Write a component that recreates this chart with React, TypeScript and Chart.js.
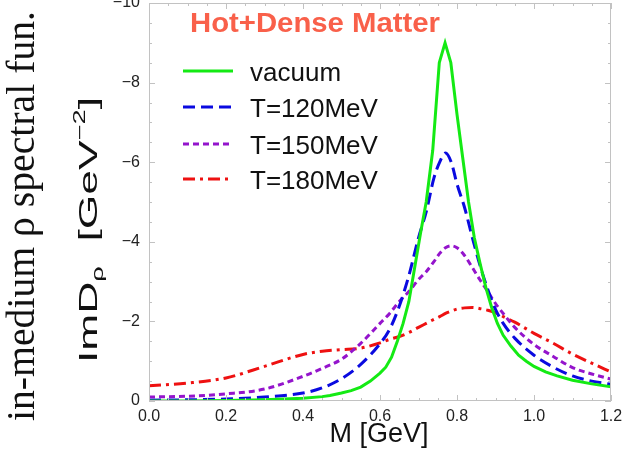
import React, { useEffect, useRef } from 'react';
import { Chart, registerables } from 'chart.js';

Chart.register(...registerables);

// invariant mass M [GeV] for the in-medium curves
const massGeV = [0, 0.1, 0.2, 0.3, 0.4, 0.45, 0.5, 0.55, 0.6, 0.625, 0.65, 0.675, 0.7, 0.72, 0.74, 0.755, 0.77, 0.785, 0.8, 0.82, 0.84, 0.86, 0.88, 0.9, 0.92, 0.95, 1.0, 1.05, 1.1, 1.15, 1.2];
// invariant mass M [GeV] for the vacuum curve
const vacuumMass = [0, 0.1, 0.2, 0.3, 0.4, 0.45, 0.47, 0.5, 0.525, 0.55, 0.575, 0.6, 0.615, 0.63, 0.645, 0.66, 0.675, 0.69, 0.705, 0.72, 0.737, 0.754, 0.769, 0.784, 0.8, 0.815, 0.83, 0.845, 0.86, 0.875, 0.89, 0.905, 0.92, 0.94, 0.96, 0.98, 1.0, 1.03, 1.06, 1.1, 1.15, 1.2];

// ImD_rho [GeV^-2]
const vacuum = [0, 0, -0.01, -0.03, -0.07, -0.11, -0.14, -0.2, -0.26, -0.35, -0.5, -0.7, -0.85, -1.1, -1.5, -1.95, -2.5, -3.35, -4.2, -5.0, -6.3, -8.5, -9.0, -8.5, -7.2, -6.1, -5.0, -4.1, -3.45, -2.85, -2.35, -1.95, -1.65, -1.38, -1.15, -1.0, -0.87, -0.73, -0.63, -0.52, -0.43, -0.36];
const t120 = [-0.02, -0.03, -0.05, -0.1, -0.2, -0.33, -0.56, -0.92, -1.44, -1.8, -2.38, -3.15, -4.1, -4.75, -5.6, -6.0, -6.23, -6.0, -5.45, -4.85, -4.1, -3.4, -2.8, -2.3, -1.95, -1.58, -1.15, -0.85, -0.63, -0.5, -0.42];
const t150 = [-0.1, -0.12, -0.18, -0.3, -0.62, -0.82, -1.05, -1.45, -1.95, -2.2, -2.5, -2.75, -3.05, -3.25, -3.5, -3.71, -3.85, -3.9, -3.85, -3.65, -3.35, -3.04, -2.75, -2.45, -2.2, -1.85, -1.42, -1.12, -0.84, -0.68, -0.55];
const t180 = [-0.38, -0.45, -0.58, -0.87, -1.17, -1.25, -1.29, -1.33, -1.46, -1.55, -1.62, -1.72, -1.85, -1.95, -2.05, -2.12, -2.2, -2.26, -2.31, -2.34, -2.35, -2.32, -2.28, -2.22, -2.12, -1.98, -1.7, -1.45, -1.18, -0.95, -0.73];

const seriesLabels = ['vacuum', 'T=120MeV', 'T=150MeV', 'T=180MeV'];
const seriesColors = ['#14ea14', '#0a0ae0', '#9414cc', '#ee1111'];
const seriesDashes: number[][] = [[], [12, 6], [6, 4], [12, 5, 3, 5]];

const xTickValues = [0, 0.2, 0.4, 0.6, 0.8, 1.0, 1.2];
const yTickValues = [0, -2, -4, -6, -8, -10];

const titleText = 'Hot+Dense Matter';
const sideText = 'in-medium \u03c1 spectral fun.';
const xTitle = 'M [GeV]';

const SANS = '"Liberation Sans", Arial, sans-serif';
const SERIF = '"Liberation Serif", "Times New Roman", serif';

const panelPlugin = {
  id: 'panel',
  afterDraw(chart: any) {
    const ctx: CanvasRenderingContext2D = chart.ctx;
    const { left, right, top, bottom } = chart.chartArea;
    const xs = chart.scales.x;
    const ys = chart.scales.y;
    ctx.save();

    // frame
    ctx.strokeStyle = '#c2c2c2';
    ctx.lineWidth = 1;
    ctx.setLineDash([]);
    ctx.strokeRect(Math.round(left) + 0.5, Math.round(top) + 0.5, Math.round(right - left) - 1, Math.round(bottom - top) - 1);

    // inward ticks (major + minor)
    ctx.beginPath();
    for (let i = 0; i <= 24; i++) {
      const px = Math.round(xs.getPixelForValue(i * 0.05)) + 0.5;
      const len = i % 4 === 0 ? 6 : 3;
      ctx.moveTo(px, bottom);
      ctx.lineTo(px, bottom - len);
      ctx.moveTo(px, top);
      ctx.lineTo(px, top + len);
    }
    for (let i = 0; i <= 20; i++) {
      const py = Math.round(ys.getPixelForValue(-i * 0.5)) + 0.5;
      const len = i % 4 === 0 ? 6 : 3;
      ctx.moveTo(left, py);
      ctx.lineTo(left + len, py);
      ctx.moveTo(right, py);
      ctx.lineTo(right - len, py);
    }
    ctx.stroke();

    // title inside plot
    ctx.fillStyle = '#f9604a';
    ctx.font = `bold 28px ${SANS}`;
    ctx.textAlign = 'left';
    ctx.textBaseline = 'alphabetic';
    const tw = ctx.measureText(titleText).width;
    ctx.save();
    ctx.translate(190, 32);
    ctx.scale(250 / tw, 1);
    ctx.fillText(titleText, 0, 0);
    ctx.restore();

    // legend
    const legendY = [71, 107, 144, 179];
    ctx.font = `26px ${SANS}`;
    for (let i = 0; i < 4; i++) {
      ctx.strokeStyle = seriesColors[i];
      ctx.lineWidth = 3;
      ctx.setLineDash(seriesDashes[i]);
      ctx.beginPath();
      ctx.moveTo(183, legendY[i]);
      ctx.lineTo(233, legendY[i]);
      ctx.stroke();
      ctx.setLineDash([]);
      ctx.fillStyle = '#111';
      ctx.fillText(seriesLabels[i], 250, legendY[i] + 9.5);
    }

    // x axis title
    ctx.font = `27px ${SANS}`;
    ctx.textAlign = 'center';
    ctx.fillStyle = '#111';
    ctx.fillText(xTitle, 379, 442);

    // y axis title: ImD_rho [GeV^-2], rotated
    ctx.save();
    ctx.translate(97, 230);
    ctx.rotate(-Math.PI / 2);
    const parts = [
      { t: 'ImD', f: `26px ${SANS}`, dy: 0 },
      { t: '\u03c1', f: `16px ${SANS}`, dy: 6 },
      { t: '  [GeV', f: `26px ${SANS}`, dy: 0 },
      { t: '\u22122', f: `16px ${SANS}`, dy: -12 },
      { t: ']', f: `26px ${SANS}`, dy: 0 },
    ];
    let total = 0;
    const widths: number[] = [];
    for (const p of parts) {
      ctx.font = p.f;
      const w = ctx.measureText(p.t).width;
      widths.push(w);
      total += w;
    }
    const sx = 266 / total;
    ctx.scale(sx, 1);
    ctx.textAlign = 'left';
    let cx = -total / 2;
    parts.forEach((p, i) => {
      ctx.font = p.f;
      ctx.fillText(p.t, cx, p.dy);
      cx += widths[i];
    });
    ctx.restore();

    // side text: in-medium rho spectral fun.
    ctx.save();
    ctx.translate(34, 216);
    ctx.rotate(-Math.PI / 2);
    ctx.font = `40px ${SERIF}`;
    const sw = ctx.measureText(sideText).width;
    ctx.scale(410 / sw, 1);
    ctx.textAlign = 'center';
    ctx.fillStyle = '#111';
    ctx.fillText(sideText, 0, 0);
    ctx.restore();

    ctx.restore();
  },
};

export default function App() {
  const ref = useRef<HTMLCanvasElement | null>(null);

  useEffect(() => {
    if (!ref.current) return;
    const mk = (xsArr: number[], vals: number[]) => xsArr.map((m, i) => ({ x: m, y: vals[i] }));
    const all = [mk(vacuumMass, vacuum), mk(massGeV, t120), mk(massGeV, t150), mk(massGeV, t180)];
    const chart = new Chart(ref.current, {
      type: 'line',
      data: {
        datasets: all.map((pts, i) => ({
          label: seriesLabels[i],
          data: pts,
          borderColor: seriesColors[i],
          backgroundColor: seriesColors[i],
          borderWidth: 3,
          borderDash: seriesDashes[i],
          pointRadius: 0,
          fill: false,
          tension: i === 0 ? 0 : 0.35,
          cubicInterpolationMode: i === 0 ? 'default' : 'monotone',
        })),
      },
      options: {
        responsive: false,
        animation: false,
        events: [],
        layout: { padding: { left: 0, top: 3, right: 11, bottom: 0 } },
        plugins: {
          legend: { display: false },
          tooltip: { enabled: false },
          title: { display: false },
        },
        scales: {
          x: {
            type: 'linear',
            min: 0,
            max: 1.2,
            afterBuildTicks: (s: any) => {
              s.ticks = xTickValues.map((v) => ({ value: v }));
            },
            afterFit: (s: any) => {
              s.height = 48;
              s.paddingLeft = 0;
              s.paddingRight = 0;
            },
            grid: { display: false, drawTicks: false },
            border: { display: false },
            ticks: {
              padding: 6,
              color: '#222',
              font: { family: SANS, size: 16 },
              maxRotation: 0,
              autoSkip: false,
              callback: (v: any) => Number(v).toFixed(1),
            },
          },
          y: {
            type: 'linear',
            min: -10,
            max: 0,
            reverse: true,
            afterBuildTicks: (s: any) => {
              s.ticks = yTickValues.map((v) => ({ value: v }));
            },
            afterFit: (s: any) => {
              s.width = 149;
              s.paddingTop = 0;
              s.paddingBottom = 0;
            },
            grid: { display: false, drawTicks: false },
            border: { display: false },
            ticks: {
              padding: 9,
              color: '#222',
              font: { family: SANS, size: 16 },
              autoSkip: false,
              callback: (v: any) => (Number(v) === 0 ? '0' : '\u2212' + Math.abs(Number(v))),
            },
          },
        },
      },
      plugins: [panelPlugin],
    });
    return () => chart.destroy();
  }, []);

  return (
    <div style={{ position: 'fixed', left: 0, top: 0, width: 622, height: 449, background: '#fff' }}>
      <canvas ref={ref} width={622} height={449} style={{ width: 622, height: 449, display: 'block' }} />
    </div>
  );
}
